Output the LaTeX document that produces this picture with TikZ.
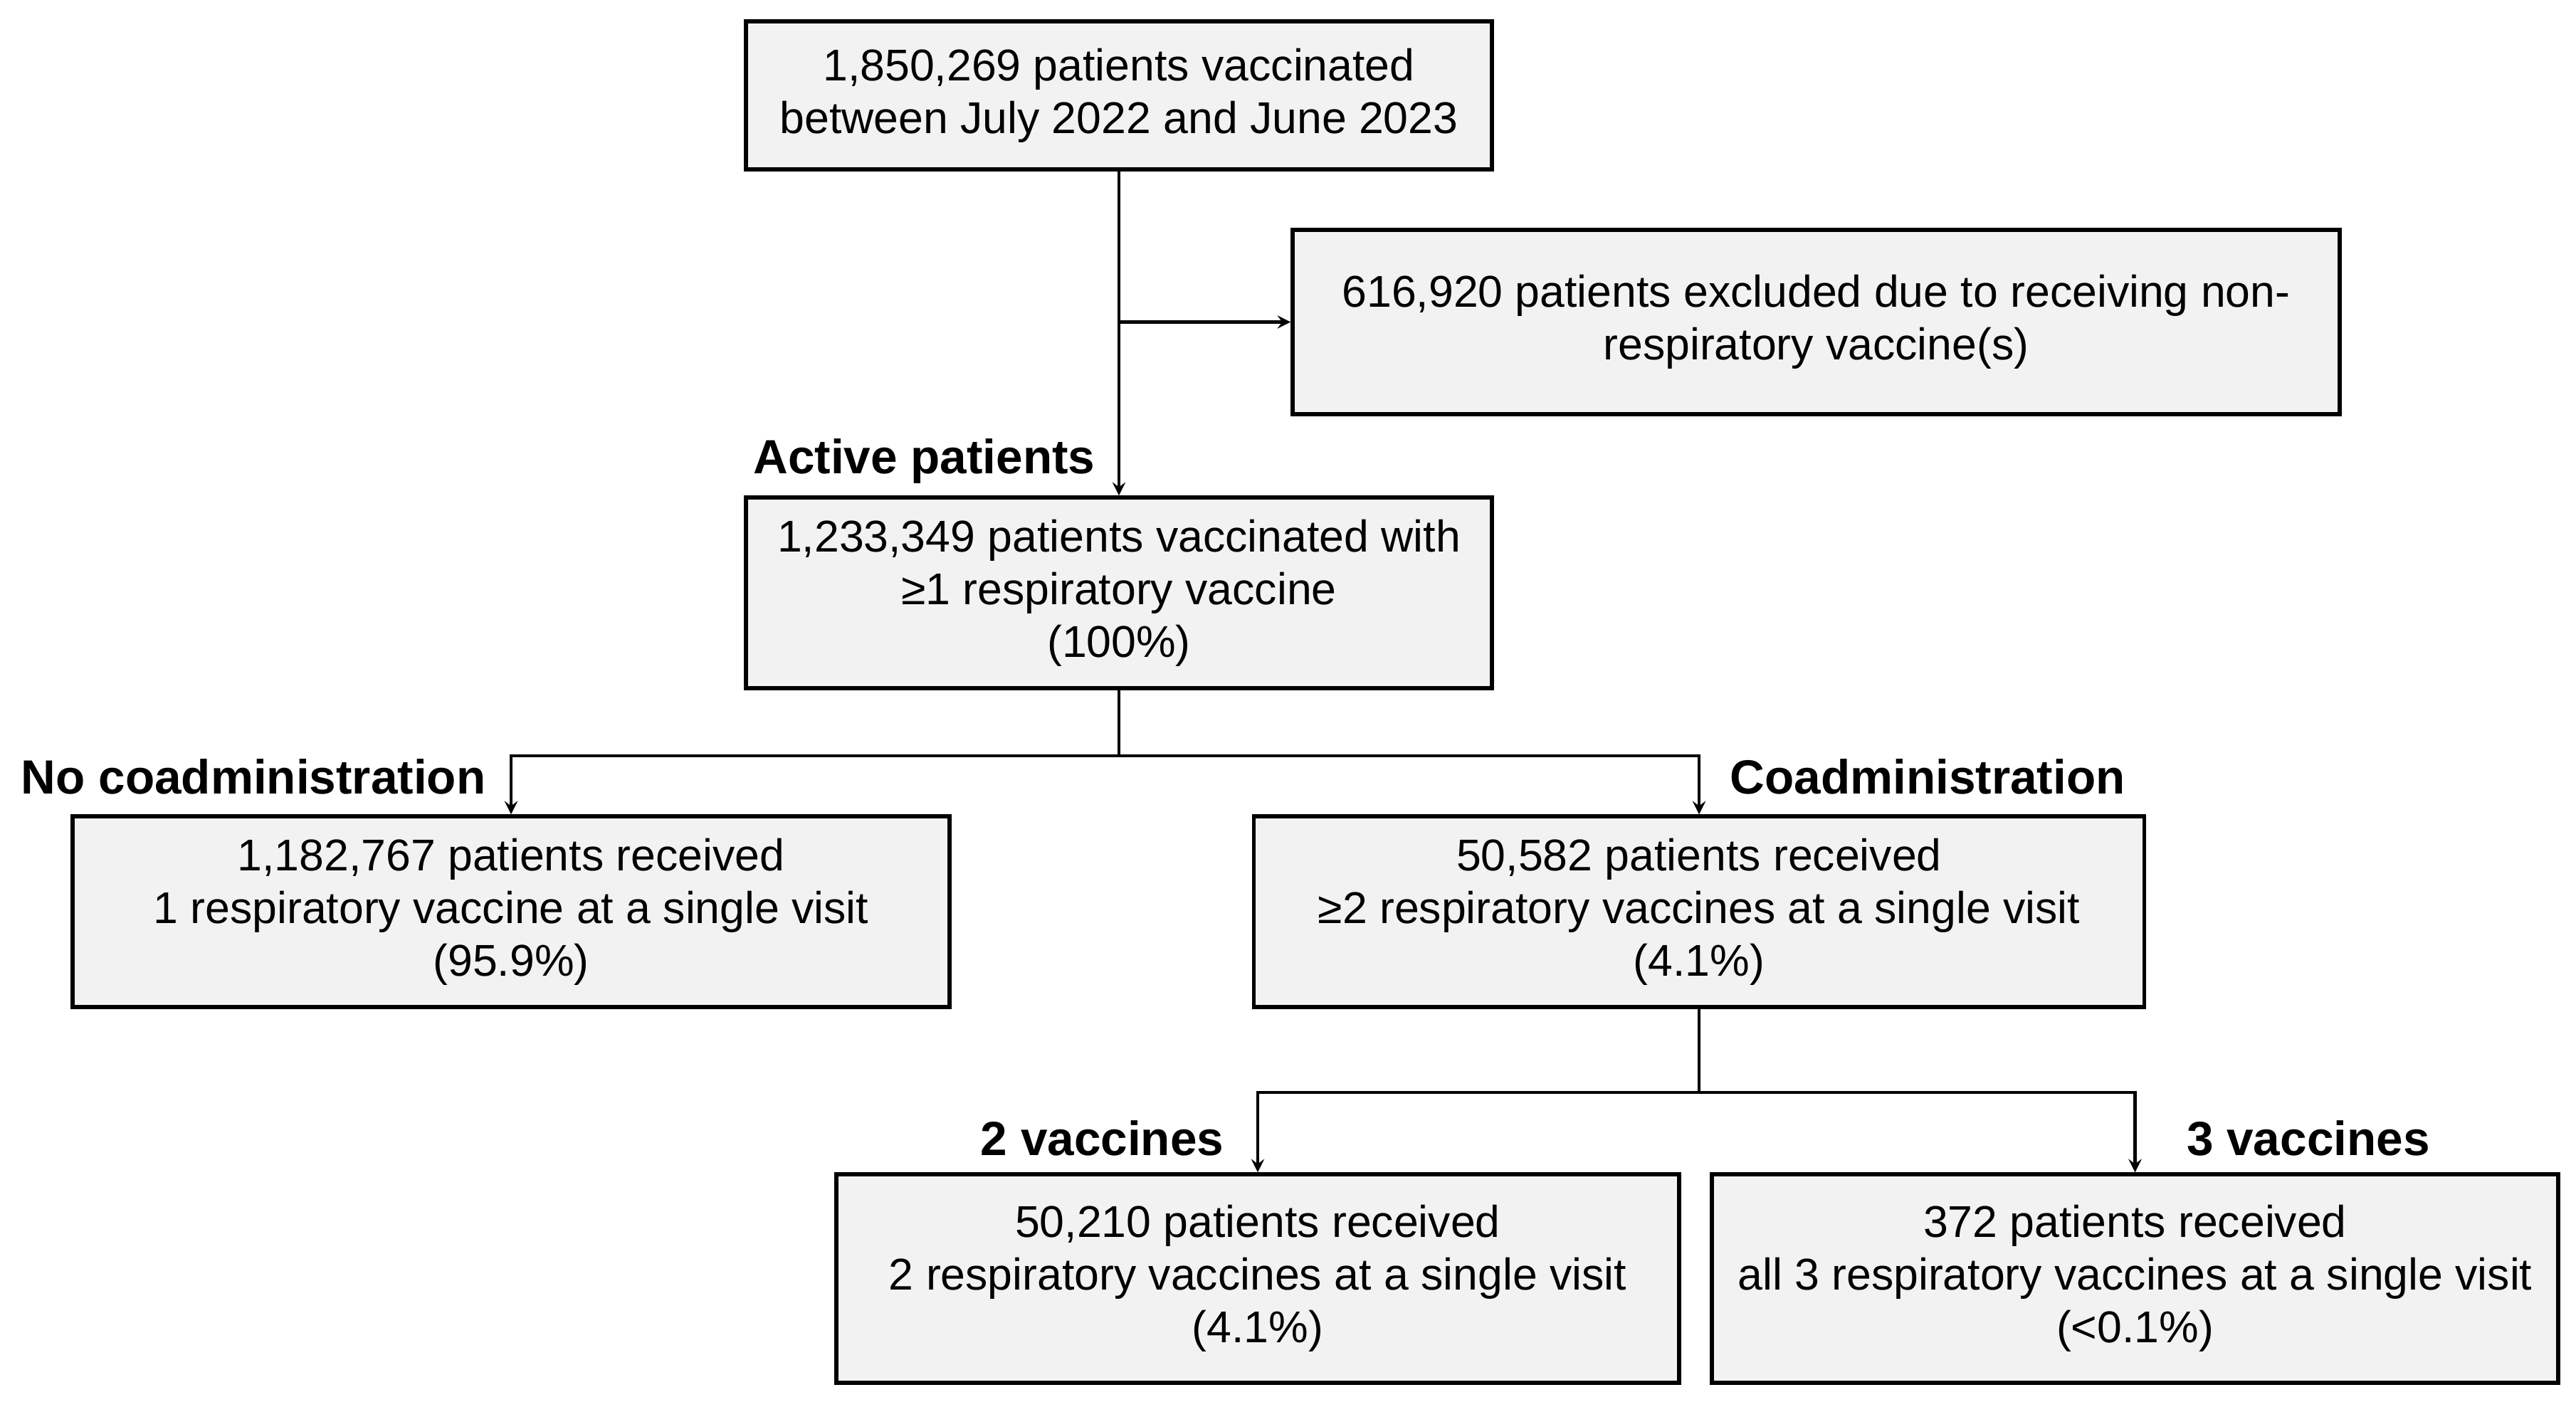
\documentclass[tikz,border=0pt]{standalone}
\usepackage{fontspec}
\setmainfont{Liberation Sans}
\usetikzlibrary{shapes.geometric, arrows}
\definecolor{boxgray}{HTML}{F2F2F2}
\tikzstyle{stage} = [rectangle, minimum height=2.68cm, text centered, align=center, draw=black, line width=1.6pt, fill=boxgray, font=\fontsize{17.8}{21}\selectfont]
\tikzstyle{tag} = [inner sep=0pt, font=\bfseries\fontsize{19.2}{22}\selectfont]
\tikzstyle{arrow} = [line width=1.3pt,->,>=stealth]

\begin{document}
\begin{tikzpicture}[node distance=2cm]
\useasboundingbox (0,0) rectangle (36.19,-19.77);

\node (start) [stage, minimum width=10.48cm, minimum height=2.08cm] at (15.72,-1.34) {1,850,269 patients vaccinated\\between July 2022 and June 2023};
\node (excluded) [stage, minimum width=14.71cm, minimum height=2.59cm, right of=start, xshift=7.795cm, yshift=-3.185cm] {616,920 patients excluded due to receiving non-\\respiratory vaccine(s)};
\node (active) [stage, minimum width=10.48cm, below of=start, yshift=-4.99cm] {1,233,349 patients vaccinated with\\≥1 respiratory vaccine\\(100\%)};

\node (nocoad) [stage, minimum width=12.32cm, below of=active, yshift=-2.48cm, xshift=-8.54cm] {1,182,767 patients received\\1 respiratory vaccine at a single visit\\(95.9\%)};
\node (coad) [stage, minimum width=12.51cm, below of=active, yshift=-2.48cm, xshift=8.15cm] {50,582 patients received\\≥2 respiratory vaccines at a single visit\\(4.1\%)};

\node (two) [stage, minimum width=11.84cm, minimum height=2.93cm, below of=coad, yshift=-3.155cm, xshift=-6.2cm] {50,210 patients received\\2 respiratory vaccines at a single visit\\(4.1\%)};
\node (three) [stage, minimum width=11.89cm, minimum height=2.93cm, below of=coad, yshift=-3.155cm, xshift=6.125cm] {372 patients received\\all 3 respiratory vaccines at a single visit\\(<0.1\%)};

\node (lblactive) [tag, anchor=east] at ([xshift=-0.33cm, yshift=0.48cm]active.north) {Active patients};
\node (lblnocoad) [tag, anchor=east] at ([xshift=-0.35cm, yshift=0.53cm]nocoad.north) {No coadministration};
\node (lblcoad) [tag, anchor=west] at ([xshift=0.43cm, yshift=0.53cm]coad.north) {Coadministration};
\node (lbltwo) [tag, anchor=east] at ([xshift=-0.47cm, yshift=0.48cm]two.north) {2 vaccines};
\node (lblthree) [tag, anchor=west] at ([xshift=0.72cm, yshift=0.48cm]three.north) {3 vaccines};

\draw [arrow] (start) -- (active);
\draw [arrow] (start.south |- excluded.west) -- (excluded.west);

\draw [arrow] (active.south) -- ++(0,-0.92) -| (nocoad.north);
\draw [arrow] (active.south) -- ++(0,-0.92) -| (coad.north);

\draw [arrow] (coad.south) -- ++(0,-1.17) -| (two.north);
\draw [arrow] (coad.south) -- ++(0,-1.17) -| (three.north);

\end{tikzpicture}
\end{document}
